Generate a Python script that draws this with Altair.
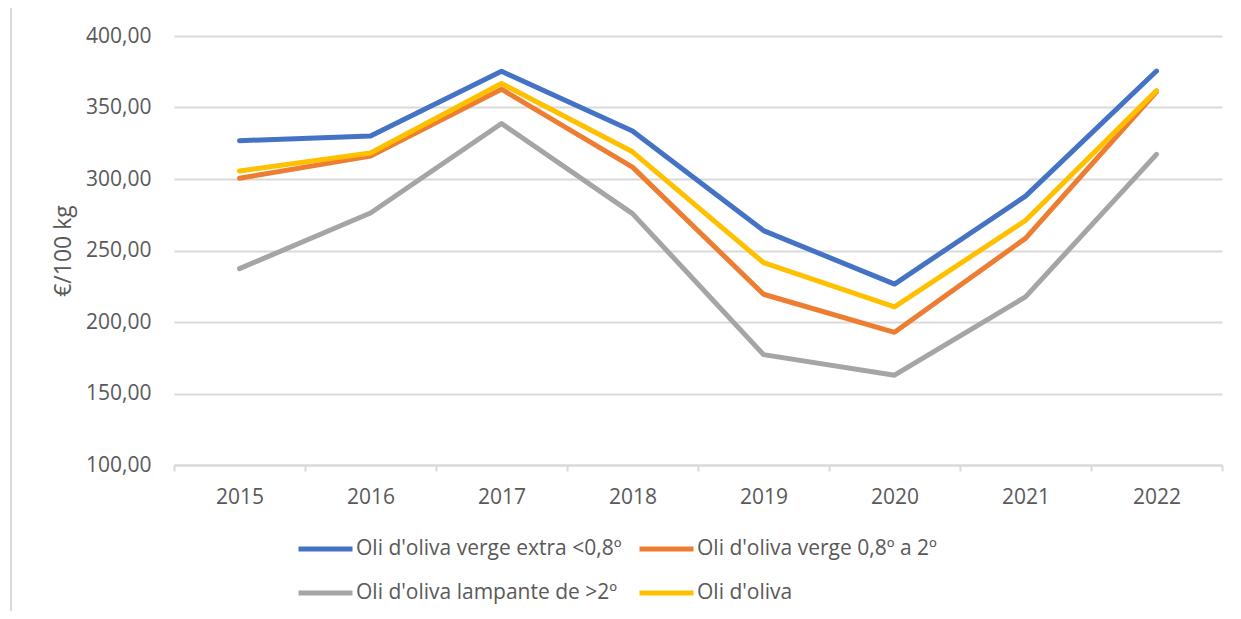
import altair as alt
import pandas as pd

years = ["2015", "2016", "2017", "2018", "2019", "2020", "2021", "2022"]
series_names = [
    "Oli d'oliva verge extra <0,8º",
    "Oli d'oliva verge 0,8º a 2º",
    "Oli d'oliva lampante de >2º",
    "Oli d'oliva",
]
extra = [326.8, 330.0, 375.3, 333.5, 263.9, 226.5, 288.0, 375.5]
verge = [300.5, 316.0, 362.8, 308.3, 219.4, 192.8, 258.5, 361.0]
lampante = [237.3, 276.2, 338.8, 275.8, 177.2, 162.8, 217.6, 317.2]
oli = [305.6, 318.2, 366.8, 319.0, 241.5, 210.6, 271.0, 361.8]
colors = ["#4472C4", "#ED7D31", "#A5A5A5", "#FFC000"]
y_ticks = [100, 150, 200, 250, 300, 350, 400]

rows = []
for name, vals in zip(series_names, [extra, verge, lampante, oli]):
    for yr, v in zip(years, vals):
        rows.append({"Any": yr, "Serie": name, "Preu": v})
df = pd.DataFrame(rows)

FONT = "Open Sans"
GREY = "#595959"

lines = alt.Chart(df).mark_line(
    strokeWidth=5, strokeCap="round", strokeJoin="round"
).encode(
    x=alt.X(
        "Any:N",
        sort=years,
        scale=alt.Scale(type="band", paddingInner=0, paddingOuter=0),
        axis=alt.Axis(
            title=None,
            labelAngle=0,
            labelFontSize=21,
            labelColor=GREY,
            labelFont=FONT,
            labelPadding=15,
            tickBand="extent",
            ticks=True,
            tickSize=6,
            tickColor="#D9D9D9",
            tickWidth=2,
            domain=True,
            domainColor="#D9D9D9",
            domainWidth=2,
            grid=False,
        ),
    ),
    y=alt.Y(
        "Preu:Q",
        scale=alt.Scale(domain=[100, 400], nice=False, zero=False),
        axis=alt.Axis(
            title="€/100 kg",
            titleFont=FONT,
            titleFontSize=23,
            titleFontWeight="normal",
            titleColor=GREY,
            titlePadding=10,
            values=y_ticks,
            labelExpr="replace(format(datum.value, '.2f'), '.', ',')",
            labelFontSize=21,
            labelColor=GREY,
            labelFont=FONT,
            labelPadding=23,
            ticks=False,
            tickSize=0,
            domain=False,
            grid=True,
            gridColor="#D9D9D9",
            gridWidth=2,
        ),
    ),
    color=alt.Color(
        "Serie:N",
        sort=series_names,
        scale=alt.Scale(domain=series_names, range=colors),
        legend=alt.Legend(
            title=None,
            orient="none",
            direction="horizontal",
            legendX=122,
            legendY=501,
            columns=2,
            symbolType="stroke",
            symbolSize=2916,
            symbolStrokeWidth=5,
            clipHeight=24,
            rowPadding=20,
            columnPadding=15,
            labelOffset=1,
            labelFontSize=21,
            labelFont=FONT,
            labelColor=GREY,
            labelLimit=500,
            padding=0,
        ),
    ),
)

border = alt.Chart(pd.DataFrame({"a": [0]})).mark_rule(
    color="#D9D9D9", strokeWidth=2
).encode(
    x=alt.value(-163),
    y=alt.value(-30),
    y2=alt.value(590),
)

chart = alt.layer(border, lines).properties(
    width=1048,
    height=429,
    autosize=alt.AutoSizeParams(type="none"),
    padding={"left": 166, "top": 28, "right": 11, "bottom": 146},
    background="white",
).configure_view(stroke=None)

chart.save("out.html", embed_options={"renderer": "svg", "actions": False})
